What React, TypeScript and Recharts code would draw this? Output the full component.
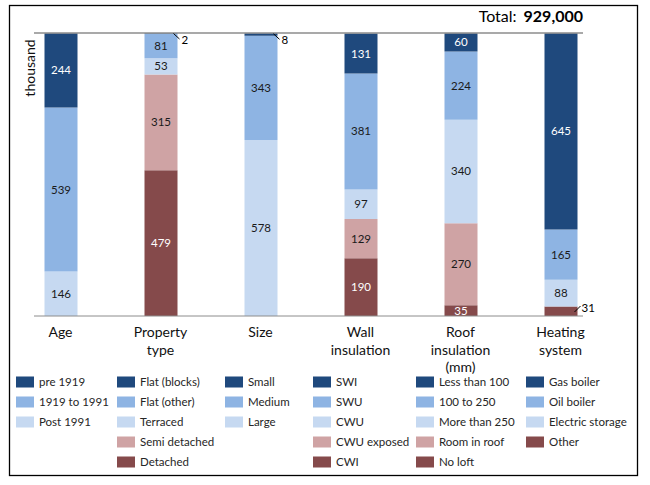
import React from 'react';
import { BarChart, Bar, XAxis, YAxis, LabelList, ReferenceLine } from 'recharts';

// Dwellings by characteristic, thousands (stack levels listed bottom to top)
const categories = ['Age', 'Property type', 'Size', 'Wall insulation', 'Roof insulation (mm)', 'Heating system'];
const categoryLines = [['Age'], ['Property', 'type'], ['Size'], ['Wall', 'insulation'], ['Roof', 'insulation', '(mm)'], ['Heating', 'system']];

const bottomLevel = [null, 479, null, 190, 35, 31];
const secondLevel = [null, 315, null, 129, 270, null];
const middleLevel = [146, 53, 578, 97, 340, 88];
const fourthLevel = [539, 81, 343, 381, 224, 165];
const topLevel = [244, 2, 8, 131, 60, 645];

// Legend entries per category, top of the stack first
const ageNames = ['pre 1919', '1919 to 1991', 'Post 1991'];
const propertyNames = ['Flat (blocks)', 'Flat (other)', 'Terraced', 'Semi detached', 'Detached'];
const sizeNames = ['Small', 'Medium', 'Large'];
const wallNames = ['SWI', 'SWU', 'CWU', 'CWU exposed', 'CWI'];
const roofNames = ['Less than 100', '100 to 250', 'More than 250', 'Room in roof', 'No loft'];
const heatingNames = ['Gas boiler', 'Oil boiler', 'Electric storage', 'Other'];

const totalText = '929,000';
const yMax = 930;

const levels = [bottomLevel, secondLevel, middleLevel, fourthLevel, topLevel];
const levelKeys = ['l0', 'l1', 'l2', 'l3', 'l4'];
const levelColors = ['#854a4b', '#cfa3a4', '#c6d9f1', '#8eb4e3', '#1f497d'];
const levelTextColors = ['#ffffff', '#1a1a1a', '#1a1a1a', '#1a1a1a', '#ffffff'];
const legendNames = [ageNames, propertyNames, sizeNames, wallNames, roofNames, heatingNames];

const FONT = 'Lato, "Open Sans", sans-serif';

const data = categories.map((category, i) => {
  const row: Record<string, any> = { category };
  levels.forEach((vals, l) => {
    row[levelKeys[l]] = vals[i];
  });
  return row;
});

// Pair each category's legend names with the stack levels it actually uses
const legendColumns = categories.map((_, i) => {
  const used = [4, 3, 2, 1, 0].filter((l) => levels[l][i] != null);
  return legendNames[i].map((name, k) => ({ name, color: levelColors[used[k]] }));
});

const legendColX = [16, 117, 225, 313, 416, 526];

const makeLabel = (level: number) => (props: any) => {
  const { x, y, width, height, value } = props;
  if (value == null) return null;
  const bx = Number(x);
  const by = Number(y);
  const bw = Number(width);
  const bh = Number(height);
  const right = bx + bw;
  if (level === 4 && bh < 12) {
    return (
      <g>
        <line x1={right - 4} y1={by + 0.5} x2={right + 2} y2={by + 6} stroke="#000" strokeWidth={1} />
        <text x={right + 4} y={by + 11} fontSize={11.5} fontFamily={FONT} fill="#000">
          {value}
        </text>
      </g>
    );
  }
  if (level === 0 && bh < 10) {
    const bottom = by + bh;
    return (
      <g>
        <line x1={right - 3} y1={bottom - 4} x2={right + 3} y2={bottom - 10} stroke="#000" strokeWidth={1} />
        <text x={right + 4} y={bottom - 4.5} fontSize={11.5} fontFamily={FONT} fill="#000">
          {value}
        </text>
      </g>
    );
  }
  return (
    <text
      x={bx + bw / 2}
      y={by + bh / 2 + 4}
      textAnchor="middle"
      fontSize={11.5}
      fontFamily={FONT}
      fill={levelTextColors[level]}
    >
      {value}
    </text>
  );
};

const CategoryTick = (props: any) => {
  const { x, y, index } = props;
  const lines = categoryLines[index] || [];
  return (
    <text x={x} y={y} textAnchor="middle" fontSize={14} fontFamily={FONT} fill="#111">
      {lines.map((ln, k) => (
        <tspan key={k} x={x} dy={k === 0 ? 21 : 17.5}>
          {ln}
        </tspan>
      ))}
    </text>
  );
};

export default function App() {
  return (
    <div style={{ position: 'absolute', left: 0, top: 0, width: 650, height: 485, background: '#fff' }}>
      <BarChart
        width={650}
        height={485}
        data={data}
        margin={{ top: 33, right: 67, bottom: 109, left: 34 }}
        style={{ position: 'absolute', left: 0, top: 0 }}
      >
        <XAxis
          dataKey="category"
          type="category"
          padding={{ left: -23.5, right: -27.5 }}
          axisLine={{ stroke: '#8c8c8c', strokeWidth: 1 }}
          tickLine={false}
          tickSize={0}
          tickMargin={0}
          interval={0}
          height={60}
          tick={<CategoryTick />}
        />
        <YAxis hide domain={[0, yMax]} />
        <ReferenceLine y={yMax} stroke="#8c8c8c" strokeWidth={1.5} />
        {levelKeys.map((key, l) => (
          <Bar
            key={key}
            dataKey={key}
            stackId="s"
            fill={levelColors[l]}
            barSize={33}
            isAnimationActive={false}
          >
            <LabelList dataKey={key} content={makeLabel(l)} />
          </Bar>
        ))}
      </BarChart>
      <svg
        width={650}
        height={485}
        style={{ position: 'absolute', left: 0, top: 0, pointerEvents: 'none' }}
      >
        <rect x={9.5} y={5.5} width={628} height={470} fill="none" stroke="#000" strokeWidth={1.3} />
        <text x={583} y={22} textAnchor="end" fontSize={16} fontFamily={FONT} fill="#000">
          <tspan>Total:</tspan>
          <tspan dx={7} fontWeight="bold">{totalText}</tspan>
        </text>
        <text
          x={0}
          y={0}
          transform="translate(35 68) rotate(-90)"
          textAnchor="middle"
          fontSize={14}
          fontFamily={FONT}
          fill="#111"
        >
          thousand
        </text>
        {legendColumns.map((col, c) => (
          <g key={c}>
            {col.map((entry, r) => {
              const cy = 382 + r * 20;
              return (
                <g key={r}>
                  <rect x={legendColX[c]} y={cy - 5.5} width={18} height={11} fill={entry.color} />
                  <text
                    x={legendColX[c] + 23}
                    y={cy + 4}
                    fontSize={11.5}
                    fontFamily={FONT}
                    fill="#262626"
                  >
                    {entry.name}
                  </text>
                </g>
              );
            })}
          </g>
        ))}
      </svg>
    </div>
  );
}
